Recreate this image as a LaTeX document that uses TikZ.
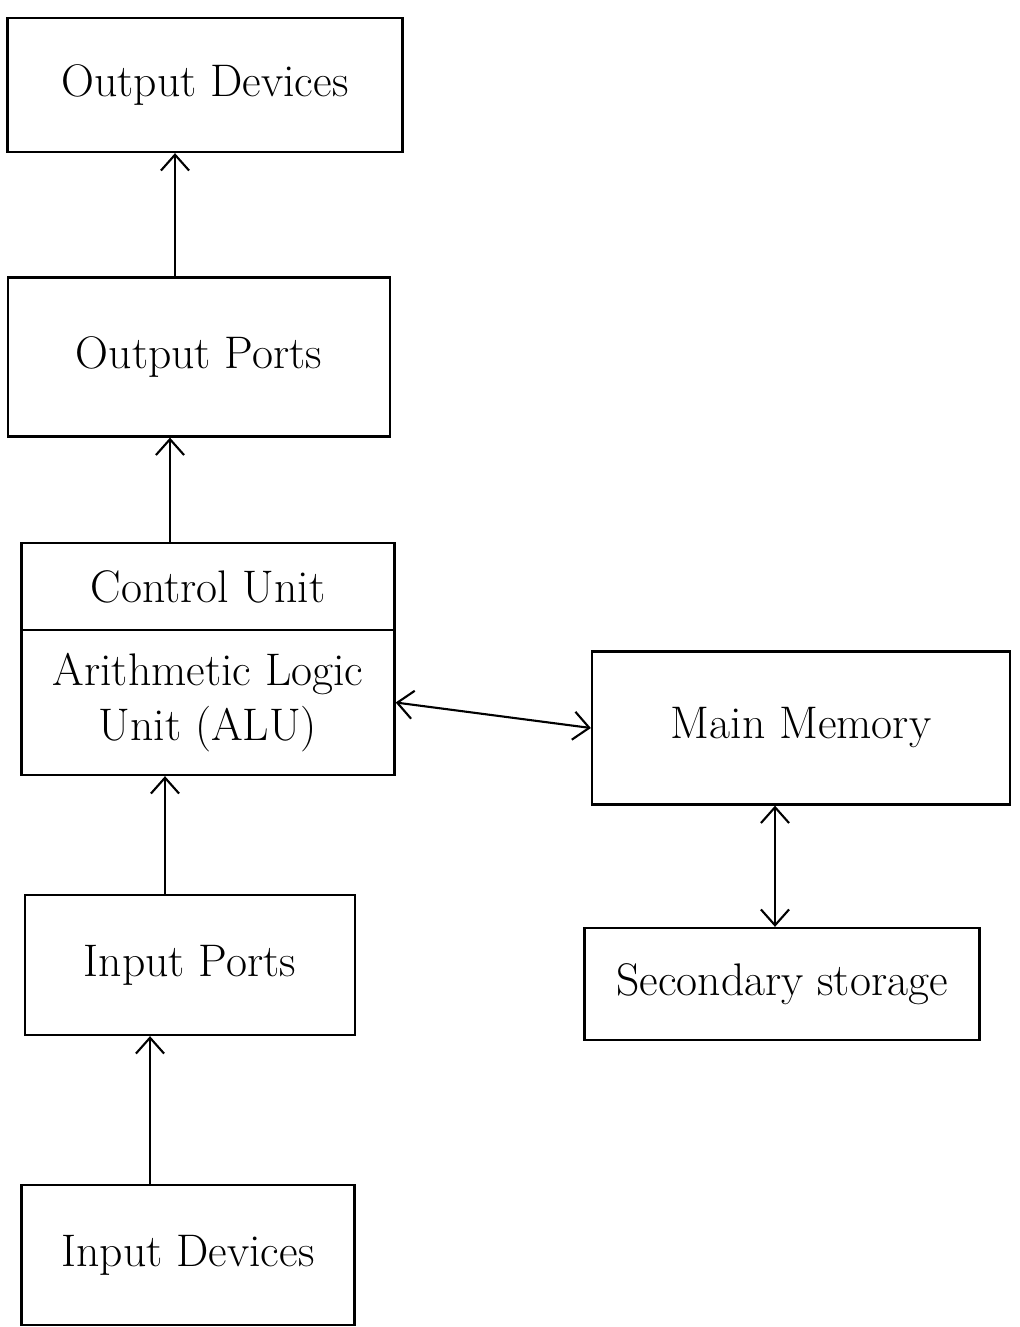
\documentclass[tikz,border=0pt]{standalone}
\usetikzlibrary{arrows.meta}
\begin{document}
\begin{tikzpicture}[x=0.02cm,y=-0.02cm,
  box/.style={draw, line width=1.3pt, rectangle, inner sep=0pt, font=\fontsize{26}{31}\selectfont, align=center},
  arr/.style={line width=1.2pt, -{Straight Barb[length=9pt,width=16pt]}},
  darr/.style={line width=1.2pt, {Straight Barb[length=9pt,width=16pt]}-{Straight Barb[length=9pt,width=16pt]}}]
\fill[white] (0,0) rectangle (1019,1327);
\useasboundingbox (0,0) rectangle (1019,1327);
\node[box, minimum width=395*0.02cm, minimum height=134*0.02cm] (od) at (205,85) {Output Devices};
\node[box, minimum width=382*0.02cm, minimum height=159*0.02cm] (op) at (199,357) {Output Ports};
\node[box, minimum width=373*0.02cm, minimum height=87*0.02cm] (cu) at (208,586.5) {Control Unit};
\node[box, minimum width=373*0.02cm, minimum height=145*0.02cm] (alu) at (208,702.5) {Arithmetic Logic\\Unit (ALU)};
\node[box, minimum width=418*0.02cm, minimum height=153*0.02cm] (mm) at (801,728) {Main Memory};
\node[box, minimum width=395*0.02cm, minimum height=112*0.02cm] (ss) at (782,984) {Secondary storage};
\node[box, minimum width=330*0.02cm, minimum height=140*0.02cm] (ip) at (190,965) {Input Ports};
\node[box, minimum width=333*0.02cm, minimum height=140*0.02cm] (id) at (188,1255) {Input Devices};
\coordinate (x1) at (175,0);
\coordinate (x2) at (170,0);
\coordinate (x3) at (165,0);
\coordinate (x4) at (150,0);
\coordinate (x5) at (775,0);
\draw[arr] (op.north -| x1) -- (od.south -| x1);
\draw[arr] (cu.north -| x2) -- (op.south -| x2);
\draw[arr] (ip.north -| x3) -- (alu.south -| x3);
\draw[arr] (id.north -| x4) -- (ip.south -| x4);
\draw[darr] (alu.east) -- (mm.west);
\draw[darr] (mm.south -| x5) -- (ss.north -| x5);
\end{tikzpicture}
\end{document}
